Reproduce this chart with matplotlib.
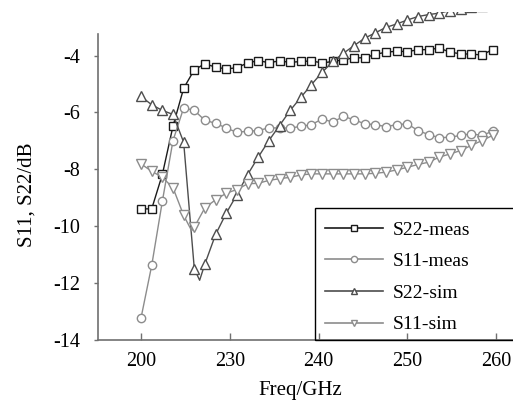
import numpy as np
import matplotlib
matplotlib.use("Agg")
import matplotlib.pyplot as plt
from matplotlib.lines import Line2D
from matplotlib.patches import Rectangle

plt.rcParams['font.family'] = ['Liberation Serif', 'DejaVu Serif']
plt.rcParams['axes.unicode_minus'] = False

# frequency grid of the measured / simulated points (plot coordinates)
freq = [220.0, 221.2, 222.4, 223.6, 224.8, 226.0, 227.2, 228.4, 229.6, 230.8,
        232.0, 233.2, 234.4, 235.6, 236.8, 238.0, 239.2, 240.4, 241.6, 242.8,
        244.0, 245.2, 246.4, 247.6, 248.8, 250.0, 251.2, 252.4, 253.6, 254.8,
        256.0, 257.2, 258.4, 259.6]

s22_meas = [-9.39, -9.39, -8.18, -6.48, -5.15, -4.50, -4.29, -4.41, -4.47, -4.43,
            -4.26, -4.18, -4.25, -4.19, -4.24, -4.21, -4.19, -4.26, -4.21, -4.15,
            -4.08, -4.08, -3.96, -3.88, -3.85, -3.86, -3.80, -3.79, -3.74, -3.88,
            -3.94, -3.95, -3.98, -3.79]

s11_meas = [-13.22, -11.38, -9.12, -6.99, -5.84, -5.93, -6.28, -6.38, -6.55, -6.70,
            -6.66, -6.64, -6.54, -6.55, -6.55, -6.49, -6.43, -6.23, -6.34, -6.14,
            -6.26, -6.40, -6.43, -6.50, -6.43, -6.40, -6.64, -6.78, -6.89, -6.87,
            -6.81, -6.75, -6.81, -6.66]

s22_sim = [-5.44, -5.73, -5.93, -6.07, -7.05, -11.50, -11.32, -10.29, -9.54, -8.89,
           -8.19, -7.57, -6.99, -6.46, -5.93, -5.47, -5.02, -4.59, -4.21, -3.92,
           -3.65, -3.39, -3.20, -3.01, -2.89, -2.75, -2.63, -2.56, -2.51, -2.42,
           -2.36, -2.30, -2.25, -2.20]

s11_sim = [-7.81, -8.07, -8.28, -8.65, -9.62, -10.03, -9.35, -9.07, -8.84, -8.71,
           -8.51, -8.49, -8.39, -8.33, -8.28, -8.20, -8.16, -8.16, -8.16, -8.16,
           -8.16, -8.16, -8.14, -8.10, -8.02, -7.93, -7.83, -7.75, -7.57, -7.46,
           -7.34, -7.16, -6.99, -6.81]

# extra un-marked points at the bottom of the two dips
s22_sim_dip = (226.6, -11.90)
s11_sim_dip = (225.7, -10.16)

xtick_pos = [220, 230, 240, 250, 260]
xtick_labels = ['200', '230', '240', '250', '260']
ytick_pos = [-14, -12, -10, -8, -6, -4]

W, H = 513, 401
fig = plt.figure(figsize=(W / 100, H / 100), dpi=100)
ax = fig.add_axes([98 / W, (H - 340) / H, 1 - 98 / W, (340 - 12) / H])


def with_dip(y, dip):
    f = list(freq)
    v = list(y)
    i = int(np.searchsorted(f, dip[0]))
    f.insert(i, dip[0])
    v.insert(i, dip[1])
    marks = [k for k in range(len(f)) if k != i]
    return f, v, marks


series = [
    ('S22-meas', freq, s22_meas, None, 's', '#1a1a1a', 5.2),
    ('S11-meas', freq, s11_meas, None, 'o', '#8c8c8c', 6),
    ('S22-sim',) + with_dip(s22_sim, s22_sim_dip) + ('^', '#4d4d4d', 6.5),
    ('S11-sim',) + with_dip(s11_sim, s11_sim_dip) + ('v', '#8c8c8c', 6.5),
]

handles = []
for name, f, y, marks, mk, col, ms in series:
    ax.plot(f, y, color=col, lw=1.0, marker=mk, ms=ms, mfc='white', mec=col,
            mew=1.0, markevery=marks, zorder=3)
    handles.append(Line2D([], [], color=col, lw=1.2, marker=mk, ms=4.5,
                          mfc='white', mec=col, mew=1.0, label=name))

ax.set_xlim(215.15, 261.9)
ax.set_ylim(-14, -2.47)

for s in ['top', 'right']:
    ax.spines[s].set_visible(False)
for s in ['left', 'bottom']:
    ax.spines[s].set_color('#707070')
    ax.spines[s].set_linewidth(1.2)
ax.spines['left'].set_bounds(-14, -3.23)

ax.set_xticks(xtick_pos)
ax.set_xticklabels(xtick_labels)
ax.set_yticks(ytick_pos)
ax.tick_params(axis='x', direction='in', length=5, width=1, color='#707070',
               pad=9, labelsize=14.5)
ax.tick_params(axis='y', direction='out', length=3, width=1, color='#707070',
               pad=10, labelsize=14.5)

ax.set_xlabel('Freq/GHz', fontsize=15)
ax.set_ylabel('S11, S22/dB', fontsize=15)
ax.xaxis.set_label_coords((300 - 98) / (W - 98), -(381 - 340) / 328)
ax.yaxis.set_label_coords(-(98 - 37) / (W - 98), (340 - 195) / 328)

# legend box
fig.patches.append(Rectangle((315 / W, (H - 340) / H), (W + 5 - 315) / W,
                             (340 - 208) / H, transform=fig.transFigure,
                             fill=False, edgecolor='black', lw=1.0, zorder=5))
fig.legend(handles=handles, loc='upper left',
           bbox_to_anchor=(325 / W, (H - 221) / H), frameon=False,
           fontsize=14, handlelength=3.0, handletextpad=0.5,
           labelspacing=0.72, borderpad=0, borderaxespad=0)

fig.savefig('out.png', dpi=100, facecolor='white')
